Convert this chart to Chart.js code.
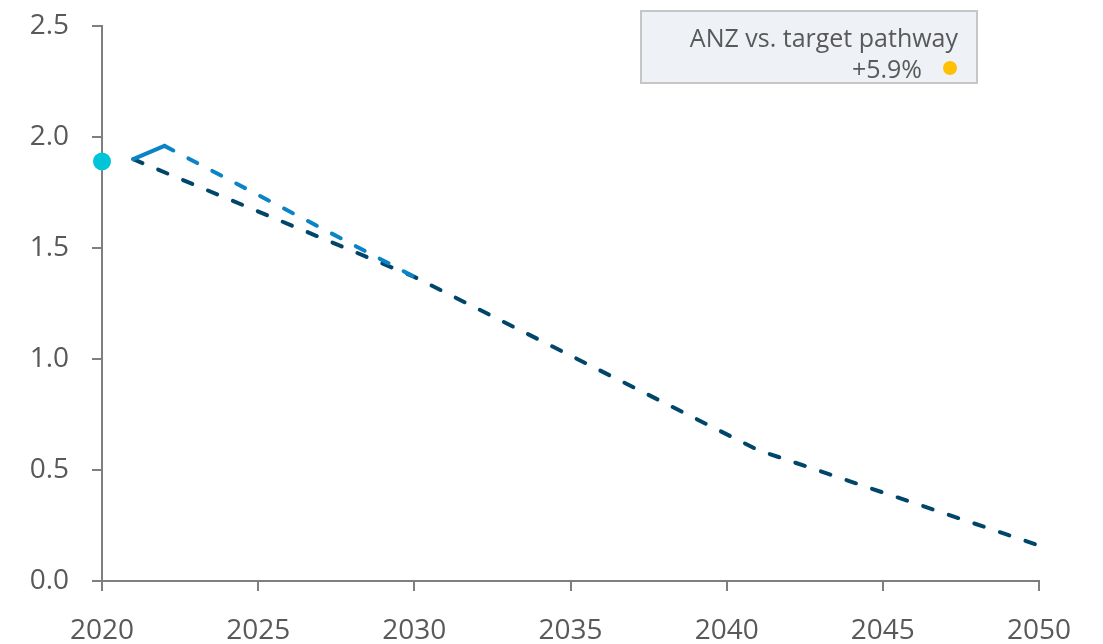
<!DOCTYPE html>
<html>
<head>
<meta charset="utf-8">
<script src="https://cdn.jsdelivr.net/npm/chart.js@4"></script>
<style>
  html, body { margin: 0; padding: 0; background: #fff; overflow: hidden; }
  #wrap { position: relative; width: 1103px; height: 680px; }
  #note {
    position: absolute; left: 640px; top: 10px; width: 334px; height: 70px;
    background: #eef1f5; border: 2px solid #c6c6c6;
    font-family: "Open Sans", sans-serif; font-size: 25px; color: #595959;
    text-align: right;
  }
  #note .l1 { position: absolute; right: 18px; top: 8px; white-space: nowrap; }
  #note .l2 { position: absolute; right: 54px; top: 39px; white-space: nowrap; }
  #note .dot {
    position: absolute; left: 301px; top: 49px; width: 14px; height: 14px;
    border-radius: 50%; background: #ffc000;
  }
</style>
</head>
<body>
<div id="wrap">
  <canvas id="chart" width="1103" height="680"></canvas>
  <div id="note">
    <span class="l1">ANZ vs. target pathway</span>
    <span class="l2">+5.9%</span>
    <span class="dot"></span>
  </div>
</div>
<script>
// values
const anzYears = [2021, 2022, 2030];
const anzValues = [1.90, 1.96, 1.37];

const targetYears = [2021, 2030, 2041, 2050];
const targetValues = [1.90, 1.37, 0.59, 0.16];

const baseYear = [2020];
const baseValue = [1.89];

const xTicks = [2020, 2025, 2030, 2035, 2040, 2045, 2050];
const yTicks = [0, 0.5, 1.0, 1.5, 2.0, 2.5];

function toPoints(xs, ys) {
  return xs.map((x, i) => ({ x: x, y: ys[i] }));
}

const axisGrey = "#7f7f7f";
const labelGrey = "#595959";
const tickFont = { family: "Open Sans", size: 28 };

const ctx = document.getElementById("chart").getContext("2d");
new Chart(ctx, {
  type: "line",
  data: {
    datasets: [
      {
        label: "Base",
        data: toPoints(baseYear, baseValue),
        showLine: false,
        pointRadius: 9,
        pointBackgroundColor: "#00c4d8",
        pointBorderWidth: 0,
        clip: false,
        order: 0,
      },
      {
        label: "ANZ",
        data: toPoints(anzYears, anzValues),
        borderColor: "#0a84c6",
        borderWidth: 4,
        borderCapStyle: "round",
        pointRadius: 0,
        segment: {
          borderDash: (c) => (c.p0DataIndex === 0 ? [] : [10, 17]),
        },
        order: 1,
      },
      {
        label: "Target pathway",
        data: toPoints(targetYears, targetValues),
        borderColor: "#00466b",
        borderWidth: 4,
        borderCapStyle: "round",
        borderDash: [10, 17],
        pointRadius: 0,
        order: 2,
      },
    ],
  },
  options: {
    responsive: false,
    animation: false,
    layout: { padding: { left: 0, top: 26, right: 64, bottom: 0 } },
    plugins: { legend: { display: false }, tooltip: { enabled: false } },
    scales: {
      x: {
        type: "linear",
        min: xTicks[0],
        max: xTicks[xTicks.length - 1],
        afterBuildTicks: (s) => { s.ticks = xTicks.map((v) => ({ value: v })); },
        afterFit: (s) => {
          s.height = 680 - 581;
          s.paddingLeft = 0;
          s.paddingRight = 0;
        },
        border: { display: true, color: axisGrey, width: 2 },
        grid: { drawOnChartArea: false, drawTicks: true, tickLength: 10, color: axisGrey, lineWidth: 2 },
        ticks: {
          color: labelGrey,
          font: tickFont,
          padding: 23,
          maxRotation: 0,
          callback: (v) => String(v),
        },
      },
      y: {
        min: 0,
        max: 2.5,
        afterBuildTicks: (s) => { s.ticks = yTicks.map((v) => ({ value: v })); },
        afterFit: (s) => {
          s.width = 102;
          s.paddingTop = 0;
          s.paddingBottom = 0;
        },
        border: { display: true, color: axisGrey, width: 2 },
        grid: { drawOnChartArea: false, drawTicks: true, tickLength: 10, color: axisGrey, lineWidth: 2 },
        ticks: {
          color: labelGrey,
          font: tickFont,
          padding: 23,
          callback: (v) => v.toFixed(1),
        },
      },
    },
  },
});
</script>
</body>
</html>
